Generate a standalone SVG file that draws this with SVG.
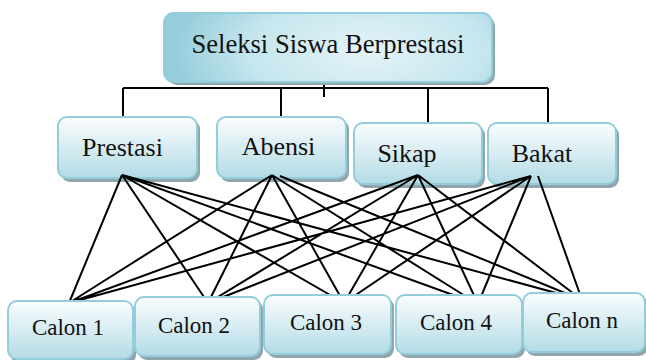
<svg xmlns="http://www.w3.org/2000/svg" width="646" height="360" viewBox="0 0 646 360">
<defs>
<linearGradient id="gv" x1="0" y1="0" x2="0" y2="1">
<stop offset="0" stop-color="#fbfdfe"/>
<stop offset="1" stop-color="#b3dbe5"/>
</linearGradient>
<radialGradient id="gr" cx="0.62" cy="0.55" r="0.6" gradientTransform="translate(0.62 0.55) scale(1 2.2) translate(-0.62 -0.55)">
<stop offset="0" stop-color="#e4f3f7"/>
<stop offset="0.6" stop-color="#c6e6ee"/>
<stop offset="1" stop-color="#94cddb"/>
</radialGradient>
</defs>
<style>
.sh{fill:#8fa6ad}
.bx{fill:url(#gv);stroke:#93cddc;stroke-width:2}
.tb{fill:url(#gr);stroke:#93cddc;stroke-width:2}
.t{fill:#111;text-anchor:middle}
.c{fill:none;stroke:#000;stroke-width:2}
</style>
<g id="connectors">
<path class="c" d="M123 88H548M324 77V97M123 88V123M281 88V123M428 88V123M548 88V123"/>
</g>
<g id="top">
<rect class="sh" x="167" y="16" width="328" height="69" rx="10"/>
<rect class="tb" x="164" y="13" width="328" height="69" rx="10"/>
<text class="t" x="328" y="53" font-family="'Liberation Serif', 'Times New Roman', serif" font-size="27" textLength="273" lengthAdjust="spacingAndGlyphs">Seleksi Siswa Berprestasi</text>
</g>
<g id="prestasi">
<rect class="sh" x="61" y="120" width="139" height="62" rx="9"/>
<rect class="bx" x="58" y="117" width="139" height="61" rx="9"/>
<text class="t" x="122.5" y="156" font-family="'Liberation Serif', 'Times New Roman', serif" font-size="26">Prestasi</text>
</g>
<g id="abensi">
<rect class="sh" x="220" y="120" width="129" height="62" rx="9"/>
<rect class="bx" x="217" y="117" width="129" height="61" rx="9"/>
<text class="t" x="278.5" y="155" font-family="'Liberation Serif', 'Times New Roman', serif" font-size="26">Abensi</text>
</g>
<g id="sikap">
<rect class="sh" x="357" y="126" width="128" height="62" rx="9"/>
<rect class="bx" x="354" y="123" width="128" height="61" rx="9"/>
<text class="t" x="407" y="162" font-family="'Liberation Serif', 'Times New Roman', serif" font-size="26">Sikap</text>
</g>
<g id="bakat">
<rect class="sh" x="491" y="126" width="128" height="62" rx="9"/>
<rect class="bx" x="488" y="123" width="128" height="61" rx="9"/>
<text class="t" x="542" y="162" font-family="'Liberation Serif', 'Times New Roman', serif" font-size="26">Bakat</text>
</g>
<g id="edges">
<path class="c" d="M122 175L69 303M122 175L208 303M122 175L344 303M122 175L478 304M122 175L582 300
M272 175L69 303M272 175L208 303M272 175L344 303M272 175L478 304M280 176L582 300
M418 175L69 303M418 175L208 303M418 175L344 303M418 175L478 304M418 175L582 300
M531 176L69 303M531 176L208 303M531 176L344 303M531 176L478 304M538 176L582 300"/>
</g>
<g id="calon1">
<rect class="sh" x="11" y="304" width="125" height="60" rx="9"/>
<rect class="bx" x="8" y="301" width="125" height="58" rx="9"/>
<text class="t" x="68" y="335" font-family="'Liberation Serif', 'Times New Roman', serif" font-size="23">Calon 1</text>
</g>
<g id="calon2">
<rect class="sh" x="138" y="300" width="125" height="60" rx="9"/>
<rect class="bx" x="135" y="297" width="125" height="59" rx="9"/>
<text class="t" x="194" y="333" font-family="'Liberation Serif', 'Times New Roman', serif" font-size="23">Calon 2</text>
</g>
<g id="calon3">
<rect class="sh" x="267" y="298" width="127" height="60" rx="9"/>
<rect class="bx" x="264" y="295" width="127" height="59" rx="9"/>
<text class="t" x="326" y="330" font-family="'Liberation Serif', 'Times New Roman', serif" font-size="23">Calon 3</text>
</g>
<g id="calon4">
<rect class="sh" x="399" y="298" width="126" height="60" rx="9"/>
<rect class="bx" x="396" y="295" width="126" height="59" rx="9"/>
<text class="t" x="456" y="330" font-family="'Liberation Serif', 'Times New Roman', serif" font-size="23">Calon 4</text>
</g>
<g id="calonn">
<rect class="sh" x="526" y="296" width="122" height="60" rx="9"/>
<rect class="bx" x="523" y="293" width="122" height="59" rx="9"/>
<text class="t" x="582" y="328" font-family="'Liberation Serif', 'Times New Roman', serif" font-size="23">Calon n</text>
</g>
</svg>
